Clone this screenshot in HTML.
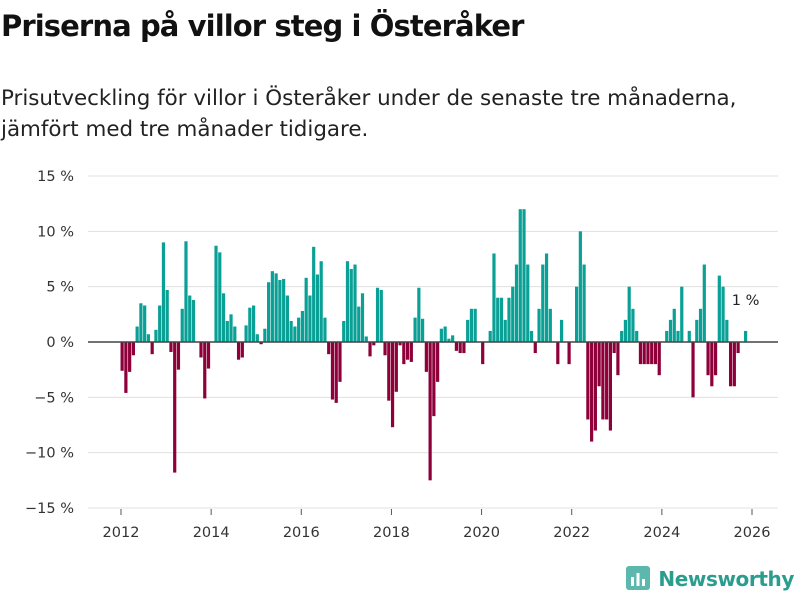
<!DOCTYPE html>
<html><head><meta charset="utf-8"><style>
body{margin:0;width:800px;height:600px;background:#fff;font-family:"DejaVu Sans","Liberation Sans",sans-serif;overflow:hidden;position:relative}
#title{position:absolute;left:1px;top:9px;font-size:29px;font-weight:bold;color:#111;letter-spacing:-0.9px;margin:0;white-space:nowrap}
#sub{position:absolute;left:1px;top:83px;font-size:21.4px;line-height:31px;color:#222;white-space:nowrap}
#logo{position:absolute;right:6px;bottom:8px;display:flex;align-items:center;color:#2a9d8f;font-weight:bold;font-size:20px;letter-spacing:-0.4px}
svg{position:absolute;left:0;top:0}
</style></head><body>
<h1 id="title">Priserna på villor steg i Österåker</h1>
<div id="sub">Prisutveckling för villor i Österåker under de senaste tre månaderna,<br>jämfört med tre månader tidigare.</div>
<svg id="chart" width="800" height="600"></svg>
<div id="logo"><svg width="26" height="26" style="position:static;margin-right:6px"><rect x="0" y="0" width="24" height="24" rx="3" fill="#5cb8ad"/><rect x="5" y="11" width="3" height="9" fill="#fff"/><rect x="10.5" y="7" width="3" height="13" fill="#fff"/><rect x="16" y="13" width="3" height="7" fill="#fff"/></svg>Newsworthy</div>
<script>
const startYear = 2012;
const values = [-2.6,-4.6,-2.7,-1.2,1.4,3.5,3.3,0.7,-1.1,1.1,3.3,9.0,4.7,-0.9,-11.8,-2.5,3.0,9.1,4.2,3.8,0,-1.4,-5.1,-2.4,0,8.7,8.1,4.4,1.9,2.5,1.4,-1.6,-1.4,1.5,3.1,3.3,0.7,-0.2,1.2,5.4,6.4,6.2,5.6,
5.7,4.2,1.9,1.4,2.2,2.8,5.8,4.2,8.6,6.1,7.3,2.2,-1.1,-5.2,-5.5,-3.6,1.9,7.3,6.6,7.0,3.2,4.4,0.5,-1.3,-0.3,4.9,4.7,-1.2,-5.3,-7.7,-4.5,-0.3,-2.0,-1.6,-1.8,2.2,4.9,2.1,-2.7,-12.5,-6.7,-3.6,
1.2,1.4,0.3,0.6,-0.8,-1.0,-1.0,2,3,3,0,-2,0,1,8,4,4,2,4,5,7,12,12,7,1,-1,3,7,8,3,0,-2,2,0,-2,0,5,10,7,
-7,-9,-8,-4,-7,-7,-8,-1,-3,1,2,5,3,1,-2,-2,-2,-2,-2,-3,0,1,2,3,1,5,0,1,-5,2,3,7,-3,-4,-3,6,5,2,-4,-4,-1,0,1];
const yTicks = [15,10,5,0,-5,-10,-15];
const yTickLabels = ["15 %","10 %","5 %","0 %","−5 %","−10 %","−15 %"];
const xTicks = [2012,2014,2016,2018,2020,2022,2024,2026];
const lastLabel = "1 %";

const NS="http://www.w3.org/2000/svg";
const svg=document.getElementById('chart');
const y=v=>342-v*(166/15);
const xYear=t=>121+(t-startYear)*(631/14);
const xMonth=i=>xYear(startYear+(i+0.3)/12);
function mk(tag,attrs){const e=document.createElementNS(NS,tag);for(const k in attrs)e.setAttribute(k,attrs[k]);svg.appendChild(e);return e;}
yTicks.forEach((t,i)=>{
  const g=mk('line',{x1:88,x2:778,y1:y(t),y2:y(t),stroke:'#e0e0e0','stroke-width':1});
  
  
  const l=mk('text',{x:74,y:y(t)+5,'text-anchor':'end','font-size':14.5,fill:'#333'});
  l.textContent=yTickLabels[i];
  
  
});
xTicks.forEach(t=>{
  const tk=mk('line',{x1:xYear(t),x2:xYear(t),y1:509,y2:515,stroke:'#555'});
  
  
  const l=mk('text',{x:xYear(t),y:537,'text-anchor':'middle','font-size':14.5,fill:'#333'});
  l.textContent=t;
  
  
});
values.forEach((v,i)=>{
  if(v===0)return;
  const cx=xMonth(i);
  const b=mk('rect',{x:cx-1.6,width:3.2,y:Math.min(y(v),y(0)),height:Math.abs(y(v)-y(0)),fill:v>0?'#0aa096':'#8e0039'});
  
  
});
const z=mk('line',{x1:88,x2:778,y1:y(0),y2:y(0),stroke:'#444','stroke-width':1.5});


const li=values.length-1;
const lt=mk('text',{x:xMonth(li),y:y(values[li])-26,'text-anchor':'middle','font-size':14.5,fill:'#222'});
lt.textContent=lastLabel;


</script>
</body></html>
